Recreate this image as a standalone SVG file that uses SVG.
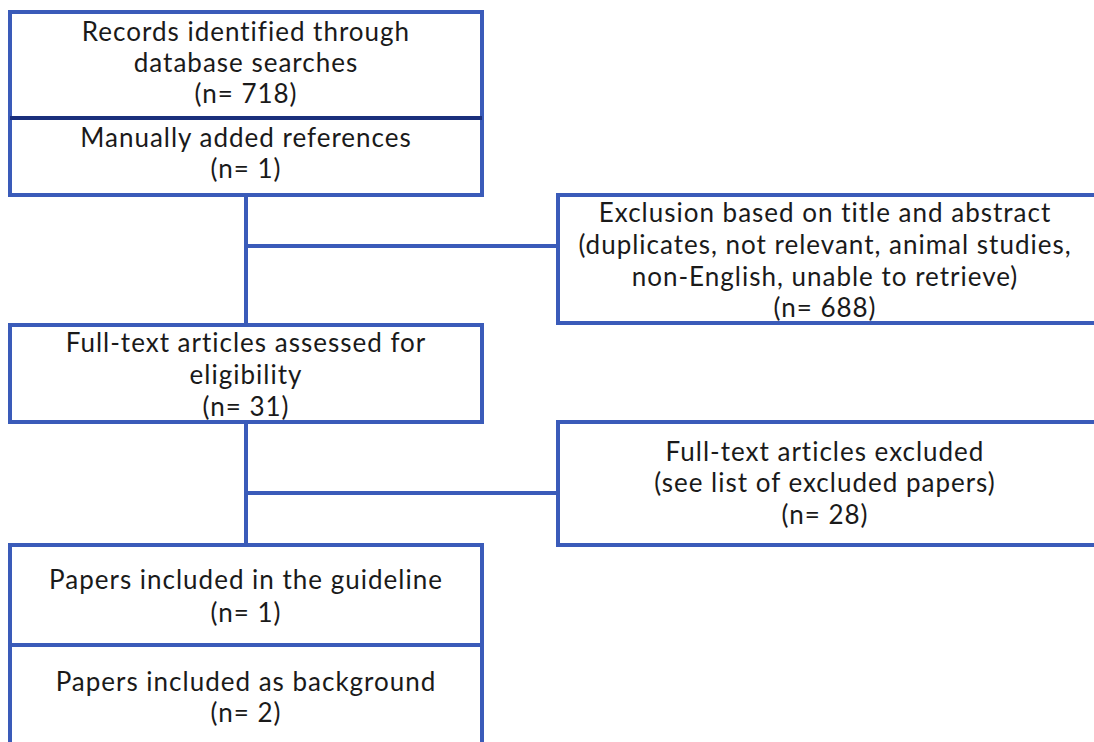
<svg xmlns="http://www.w3.org/2000/svg" width="1094" height="742" viewBox="0 0 1094 742">
  <style>
    .box { fill: #ffffff; stroke: #3a5bb9; stroke-width: 4; }
    .div-dark { stroke: #1a2f7c; stroke-width: 4; }
    .div { stroke: #3a5bb9; stroke-width: 4; }
    .link { fill: none; stroke: #3a5bb9; stroke-width: 4; }
    text { font-family: Lato, "Open Sans", "Liberation Sans", sans-serif; font-size: 26px; fill: #1a1a1a; text-anchor: middle; letter-spacing: 1px; }
  </style>

  <!-- connectors -->
  <g id="connectors">
    <path class="link" d="M246,195 V325"/>
    <path class="link" d="M246,246 H558"/>
    <path class="link" d="M246,422 V545"/>
    <path class="link" d="M246,493 H558"/>
  </g>

  <!-- identification -->
  <g id="records">
    <rect class="box" x="10" y="12" width="472" height="183"/>
    <line class="div-dark" x1="10" y1="118" x2="482" y2="118"/>
    <text x="246" y="41">Records identified through</text>
    <text x="246" y="72">database searches</text>
    <text x="246" y="103">(n= 718)</text>
    <text x="246" y="147">Manually added references</text>
    <text x="246" y="178">(n= 1)</text>
  </g>

  <!-- screening exclusions -->
  <g id="excluded-screening">
    <rect class="box" x="558" y="195" width="540" height="128"/>
    <text x="825" y="222">Exclusion based on title and abstract</text>
    <text x="825" y="254">(duplicates, not relevant, animal studies,</text>
    <text x="825" y="286">non-English, unable to retrieve)</text>
    <text x="825" y="317">(n= 688)</text>
  </g>

  <!-- eligibility -->
  <g id="fulltext">
    <rect class="box" x="10" y="325" width="472" height="97"/>
    <text x="246" y="352">Full-text articles assessed for</text>
    <text x="246" y="384">eligibility</text>
    <text x="246" y="416">(n= 31)</text>
  </g>

  <!-- full-text exclusions -->
  <g id="excluded-fulltext">
    <rect class="box" x="558" y="422" width="540" height="123"/>
    <text x="825" y="461">Full-text articles excluded</text>
    <text x="825" y="492">(see list of excluded papers)</text>
    <text x="825" y="524">(n= 28)</text>
  </g>

  <!-- included -->
  <g id="included">
    <rect class="box" x="10" y="545" width="472" height="210"/>
    <line class="div" x1="10" y1="645" x2="482" y2="645"/>
    <text x="246" y="589">Papers included in the guideline</text>
    <text x="246" y="622">(n= 1)</text>
    <text x="246" y="691">Papers included as background</text>
    <text x="246" y="722">(n= 2)</text>
  </g>
</svg>
